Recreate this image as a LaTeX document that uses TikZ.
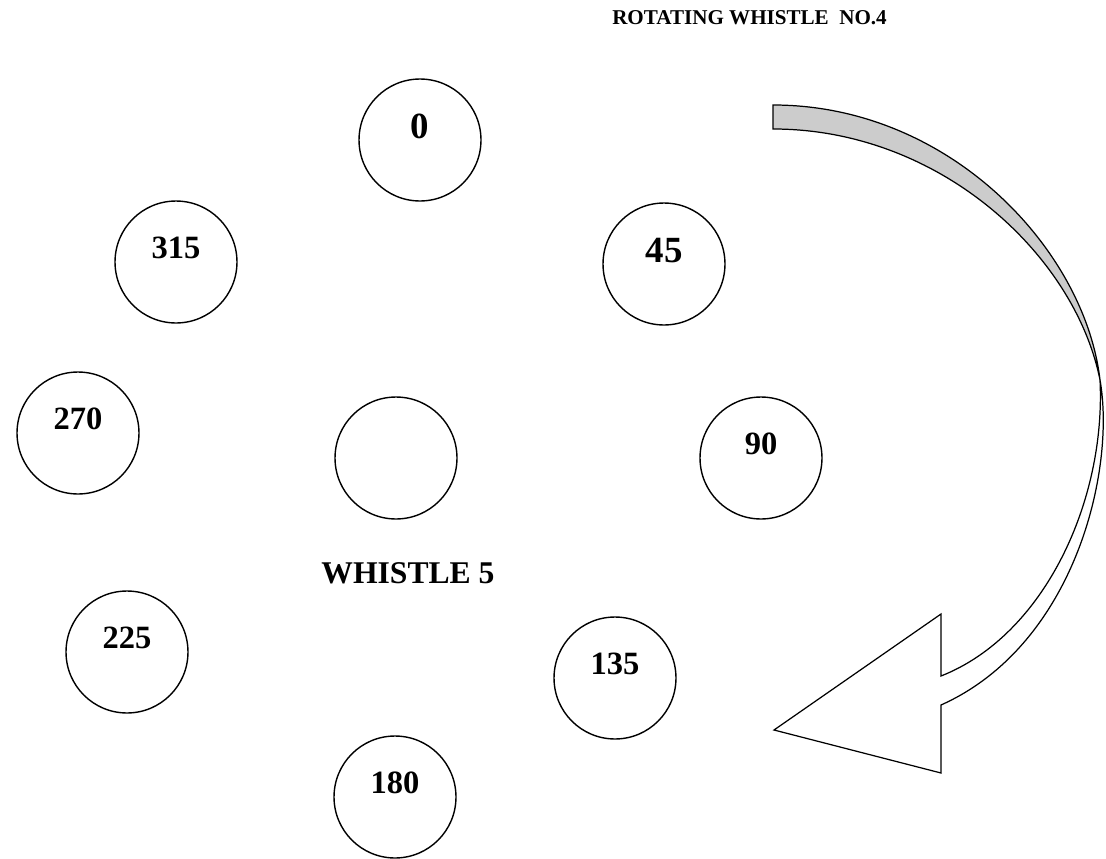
\documentclass[tikz,border=0pt]{standalone}
\usepackage{fontspec}
\setmainfont{Liberation Serif}
\usetikzlibrary{positioning}

\begin{document}
\begin{tikzpicture}[
  x=0.02cm, y=-0.02cm,
  whistle/.style={draw, circle, line width=0.8pt, minimum size=2.44cm, inner sep=0pt, text depth=0.56cm, font=\bfseries\fontsize{18.5}{20}\selectfont},
  bignum/.style={font=\bfseries\fontsize{21}{24}\selectfont},
  ribbon/.style={draw, line width=0.7pt, line join=miter}
]
\useasboundingbox (0,0) rectangle (1106,859);

\node[anchor=base east, font=\bfseries\fontsize{12}{14}\selectfont] (title) at (893,24) {ROTATING WHISTLE~~NO.4};

\node[whistle, bignum] (w0) at (420,140) {0};
\node[whistle, bignum] (w45) at (664,264) {45};
\node[whistle] (w90) at (761,458) {90};
\node[whistle] (w135) at (615,678) {135};
\node[whistle] (w180) at (395,797) {180};
\node[whistle] (w225) at (127,652) {225};
\node[whistle] (w270) at (78,433) {270};
\node[whistle] (w315) at (176,262) {315};
\node[whistle] (wc) at (396,458) {};

\node[font=\bfseries\fontsize{18}{20}\selectfont] (name5) at (408,573) {WHISTLE 5};

% rotation arrow
\filldraw[ribbon, fill=black!20] (773,105) .. controls (950,105) and (1085,250) .. (1100,380)
  .. controls (1075,255) and (940,129) .. (773,129) -- cycle;
\filldraw[ribbon, fill=white] (1100,380) .. controls (1116,470) and (1075,645) .. (941,705)
  -- (941,773) -- (774,730) -- (941,614) -- (941,676)
  .. controls (1045,635) and (1106,500) .. (1100,380) -- cycle;
\end{tikzpicture}
\end{document}
